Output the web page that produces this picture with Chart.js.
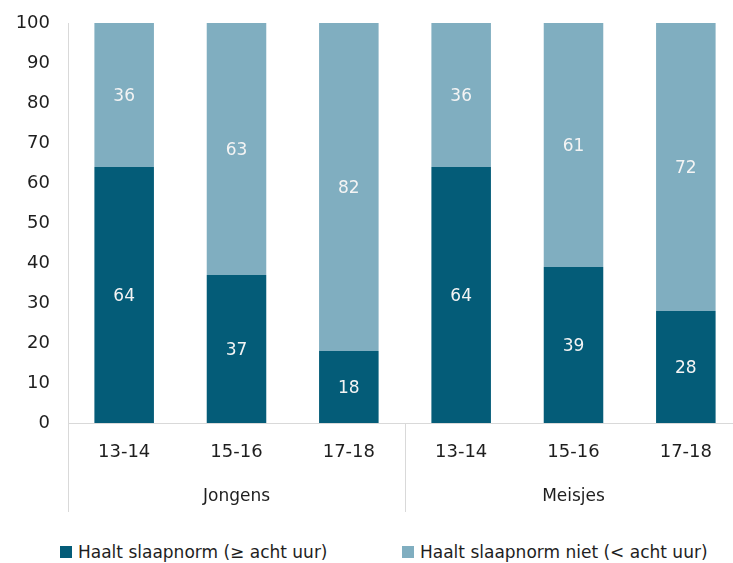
<!DOCTYPE html>
<html>
<head>
<meta charset="utf-8">
<script src="https://cdn.jsdelivr.net/npm/chart.js@4"></script>
<style>
  html, body { margin: 0; padding: 0; background: #fff; overflow: hidden; }
  body { width: 733px; height: 563px; position: relative; font-family: "DejaVu Sans", sans-serif; }
  #wrap { position: absolute; left: 0; top: 0; width: 742px; height: 525px; }
  .legend-item { position: absolute; top: 542px; display: flex; align-items: center; font-size: 17px; color: #1e1e1e; white-space: nowrap; }
  .legend-color { width: 12px; height: 12px; margin-right: 6px; display: inline-block; }
</style>
</head>
<body>
<div id="wrap"><canvas id="barChart"></canvas></div>
<div id="legend"></div>
<script>
// --- Data ---
const ageLabels = ["13-14", "15-16", "17-18", "13-14", "15-16", "17-18"];
const groupLabels = ["Jongens", "Meisjes"];
const groupSize = 3;
const haaltNorm = [64, 37, 18, 64, 39, 28];
const haaltNormNiet = [36, 63, 82, 36, 61, 72];
const yTicks = [0, 10, 20, 30, 40, 50, 60, 70, 80, 90, 100];

const seriesNames = ["Haalt slaapnorm (\u2265 acht uur)", "Haalt slaapnorm niet (< acht uur)"];
const colors = ["#045c78", "#80aec0"];
const axisColor = "#d9d9d9";
const textColor = "#1e1e1e";
const fontFamily = "'DejaVu Sans', sans-serif";

// --- Value labels inside each segment ---
const valueLabels = {
  id: "valueLabels",
  afterDatasetsDraw(chart) {
    const ctx = chart.ctx;
    ctx.save();
    ctx.fillStyle = "#f4f4f4";
    ctx.font = "17px " + fontFamily;
    ctx.textAlign = "center";
    ctx.textBaseline = "middle";
    chart.data.datasets.forEach((ds, di) => {
      chart.getDatasetMeta(di).data.forEach((bar, i) => {
        const p = bar.getCenterPoint();
        ctx.fillText(String(ds.data[i]), p.x, p.y + 2);
      });
    });
    ctx.restore();
  }
};

// --- Group separators and group names under the age labels ---
const groupAxis = {
  id: "groupAxis",
  afterDraw(chart) {
    const ctx = chart.ctx;
    const x = chart.scales.x;
    const y = chart.scales.y;
    const half = (x.getPixelForValue(1) - x.getPixelForValue(0)) / 2;
    const lineBottom = y.bottom + 89;
    ctx.save();
    ctx.strokeStyle = axisColor;
    ctx.lineWidth = 1;
    for (let g = 0; g <= groupLabels.length; g++) {
      const px = Math.round(x.getPixelForValue(g * groupSize) - half) + 0.5;
      ctx.beginPath();
      ctx.moveTo(px, y.bottom);
      ctx.lineTo(px, lineBottom);
      ctx.stroke();
    }
    ctx.fillStyle = textColor;
    ctx.font = "17px " + fontFamily;
    ctx.textAlign = "center";
    ctx.textBaseline = "middle";
    groupLabels.forEach((name, g) => {
      const a = x.getPixelForValue(g * groupSize);
      const b = x.getPixelForValue(g * groupSize + groupSize - 1);
      ctx.fillText(name, (a + b) / 2, y.bottom + 74);
    });
    ctx.restore();
  }
};

const barCtx = document.getElementById("barChart").getContext("2d");
new Chart(barCtx, {
  type: "bar",
  data: {
    labels: ageLabels,
    datasets: [
      { label: seriesNames[0], data: haaltNorm, backgroundColor: colors[0], borderWidth: 0 },
      { label: seriesNames[1], data: haaltNormNiet, backgroundColor: colors[1], borderWidth: 0 }
    ]
  },
  options: {
    responsive: true,
    maintainAspectRatio: false,
    animation: false,
    layout: { padding: { top: 23, right: 0, left: 0, bottom: 0 } },
    datasets: { bar: { categoryPercentage: 1, barPercentage: 0.53 } },
    plugins: {
      legend: { display: false },
      tooltip: { enabled: false }
    },
    scales: {
      x: {
        stacked: true,
        grid: { display: false, drawTicks: false },
        border: { display: true, color: axisColor, width: 1 },
        ticks: { color: textColor, font: { family: fontFamily, size: 18 }, padding: 19, maxRotation: 0 },
        afterFit(scale) {
          scale.height = 102;
          scale.paddingLeft = 0;
          scale.paddingRight = 0;
        }
      },
      y: {
        stacked: true,
        min: 0,
        max: 100,
        afterBuildTicks(scale) { scale.ticks = yTicks.map(v => ({ value: v })); },
        grid: { display: false, drawTicks: false },
        border: { display: true, color: axisColor, width: 1 },
        ticks: { color: textColor, font: { family: fontFamily, size: 18 }, padding: 18 },
        afterFit(scale) {
          scale.width = 68;
          scale.paddingTop = 0;
          scale.paddingBottom = 0;
        }
      }
    }
  },
  plugins: [valueLabels, groupAxis]
});

// --- Legend ---
const legend = document.getElementById("legend");
const legendLeft = [60, 402];
seriesNames.forEach((name, i) => {
  legend.innerHTML += `
    <div class="legend-item" style="left:${legendLeft[i]}px">
      <span class="legend-color" style="background:${colors[i]}"></span>
      <span class="legend-label">${name.replace("<", "&lt;")}</span>
    </div>`;
});
</script>
</body>
</html>
